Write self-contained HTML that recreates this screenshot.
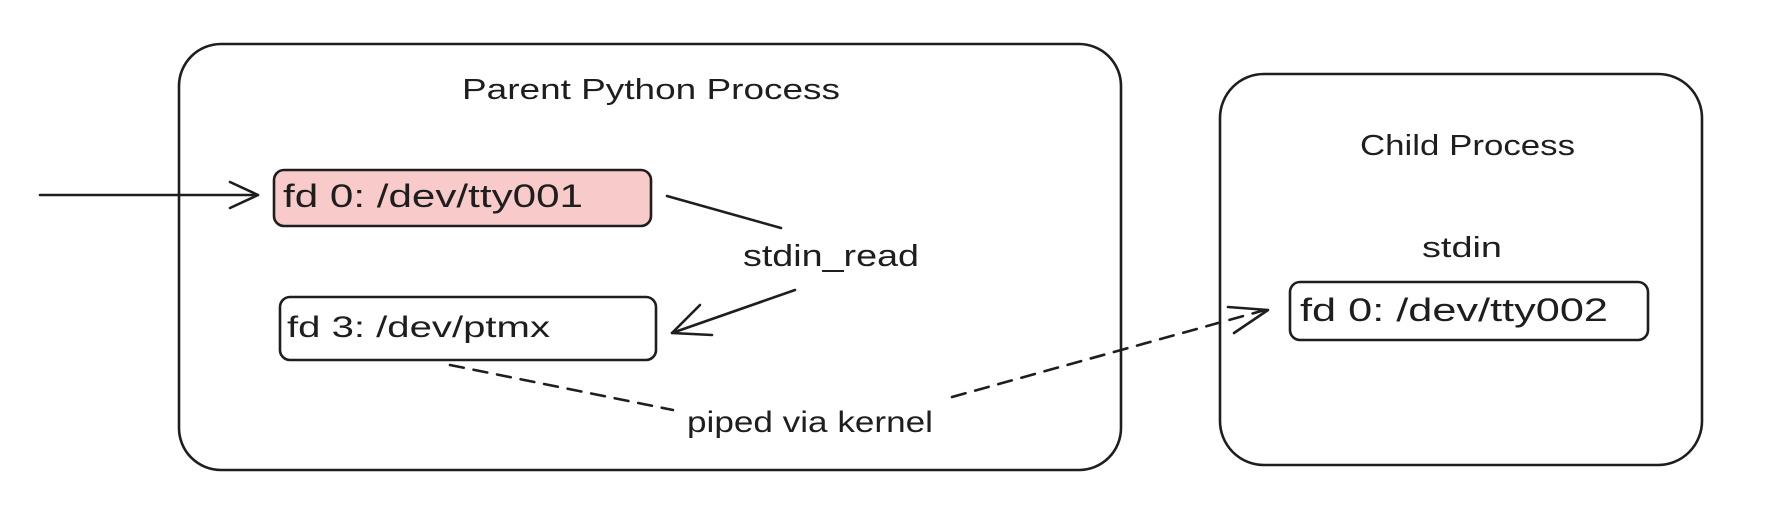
<!DOCTYPE html>
<html><head><meta charset="utf-8"><style>
html,body{margin:0;padding:0;background:#fff;}
svg{display:block;}
text{font-family:"Liberation Sans",sans-serif;fill:#1e1e1e;}
</style></head><body>
<svg width="1778" height="526" viewBox="0 0 1778 526" xmlns="http://www.w3.org/2000/svg">
<g fill="none" stroke="#1e1e1e" stroke-width="2.6" stroke-linecap="round" stroke-linejoin="round">
<rect x="179" y="44" width="942" height="426" rx="42"/>
<rect x="274" y="170" width="377" height="56" rx="10" fill="#f8caca"/>
<rect x="280" y="297" width="376" height="63" rx="10"/>
<rect x="1220" y="74" width="482" height="391" rx="44"/>
<rect x="1290" y="282" width="358" height="58" rx="10"/>
<line x1="40" y1="195" x2="258" y2="195"/>
<polyline points="230,182 258,195 230,208"/>
<line x1="667" y1="196" x2="781" y2="228"/>
<line x1="795" y1="290" x2="672" y2="333"/>
<polyline points="700,305 672,333 712,335"/>
<line x1="450" y1="365" x2="673" y2="410" stroke-dasharray="14 10"/>
<line x1="952" y1="397" x2="1265" y2="310" stroke-dasharray="14 10"/>
<polyline points="1228,307 1268,310 1234,333"/>
</g>
<text x="462" y="99" font-size="29" textLength="378" lengthAdjust="spacingAndGlyphs">Parent Python Process</text>
<text x="283" y="207" font-size="32" textLength="300" lengthAdjust="spacingAndGlyphs">fd 0: /dev/tty001</text>
<text x="287" y="337" font-size="30" textLength="263" lengthAdjust="spacingAndGlyphs">fd 3: /dev/ptmx</text>
<text x="743" y="266" font-size="31" textLength="176" lengthAdjust="spacingAndGlyphs">stdin_read</text>
<text x="687" y="432" font-size="30" textLength="246" lengthAdjust="spacingAndGlyphs">piped via kernel</text>
<text x="1360" y="155" font-size="29" textLength="215" lengthAdjust="spacingAndGlyphs">Child Process</text>
<text x="1422" y="257" font-size="29" textLength="80" lengthAdjust="spacingAndGlyphs">stdin</text>
<text x="1300" y="321" font-size="32" textLength="308" lengthAdjust="spacingAndGlyphs">fd 0: /dev/tty002</text>
</svg>
</body></html>
